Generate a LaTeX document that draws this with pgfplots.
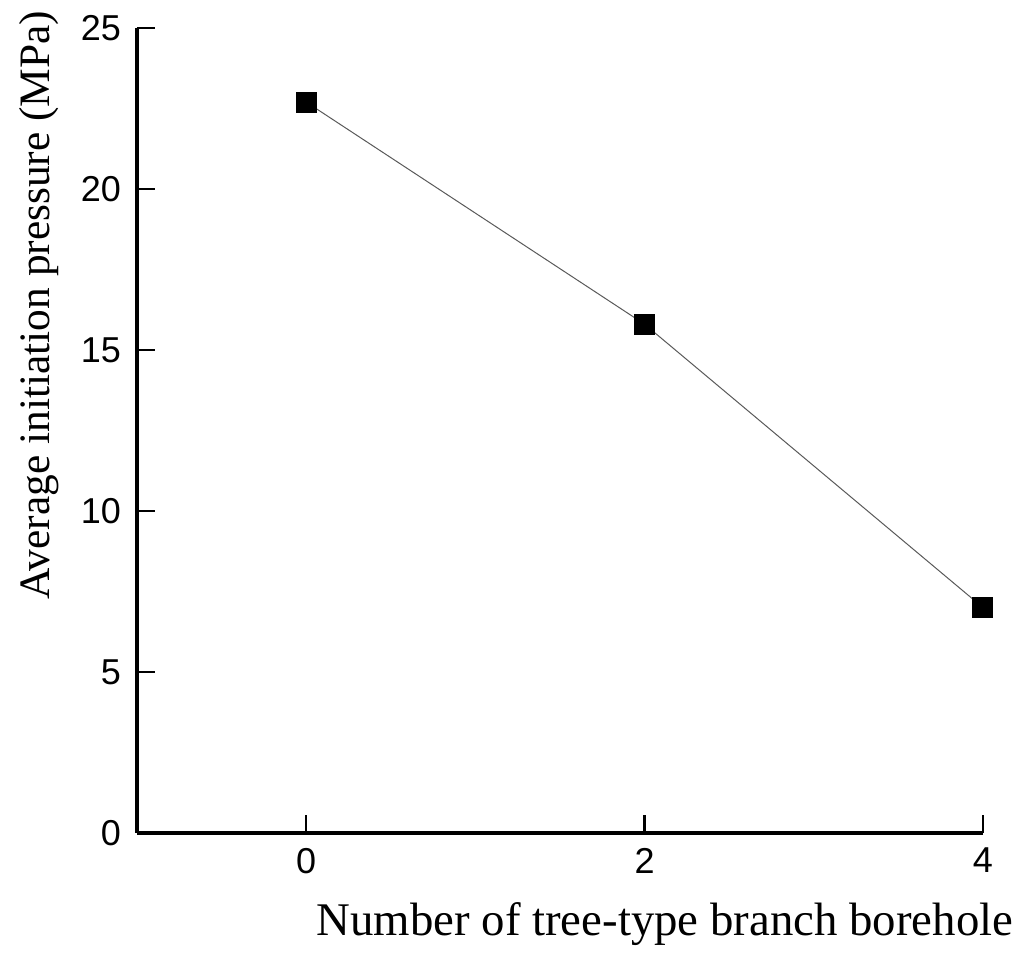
\documentclass[border=0pt]{standalone}
\usepackage{fontspec}
\setmainfont{Liberation Serif}
\newfontfamily\sansf{Liberation Sans}
\usepackage{pgfplots}
\pgfplotsset{compat=1.18}
\begin{document}
\begin{tikzpicture}
\useasboundingbox (0,0) rectangle (512pt,479.5pt);
\begin{axis}[
  at={(68.5pt,63pt)}, anchor=south west,
  scale only axis, width=423pt, height=402.5pt,
  xmin=-1, xmax=4, ymin=0, ymax=25,
  axis lines=left, axis line style={-, line width=1.6pt},
  clip=false,
  xtick={0,2,4}, ytick={0,5,10,15,20,25},
  tick align=inside, major tick length=9pt,
  tick style={line width=1.2pt, black},
  /pgf/number format/assume math mode=true,
  ticklabel style={font=\sansf\fontsize{18}{20}\selectfont},
  yticklabel style={xshift=-4.5pt},
  xticklabel style={yshift=-4pt},
  xlabel={Number of tree-type branch borehole},
  ylabel={Average initiation pressure (MPa)},
  xlabel style={font=\fontsize{23.4}{26}\selectfont, at={(axis description cs:0.624,-0.127)}, anchor=base},
  ylabel style={font=\fontsize{21.7}{26}\selectfont, at={(axis description cs:-0.103,0.656)}, anchor=base, rotate=0},
]
\addplot[color=black!65, line width=0.5pt, mark=square*, mark size=5pt,
  mark options={fill=black, draw=black, line width=0pt}]
  coordinates {(0,22.7) (2,15.8) (4,7.0)};
\end{axis}
\end{tikzpicture}
\end{document}
